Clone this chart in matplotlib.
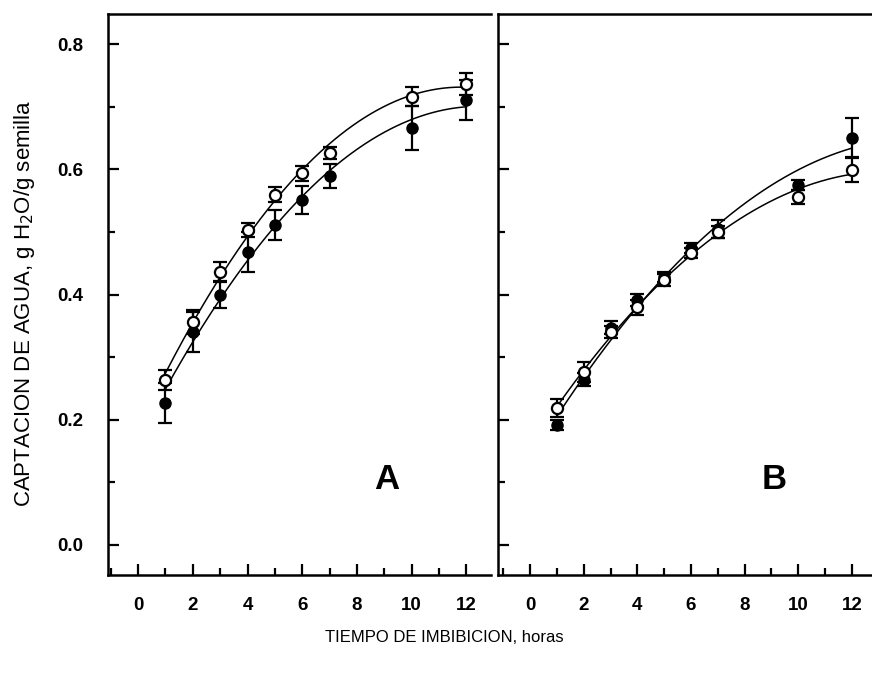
import numpy as np
import matplotlib
matplotlib.use("Agg")
import matplotlib.pyplot as plt
from matplotlib.ticker import MultipleLocator

plt.rcParams['font.family'] = ['Liberation Sans', 'DejaVu Sans']

# time of imbibition, hours
horas = [1, 2, 3, 4, 5, 6, 7, 10, 12]

# panel A
a_abierto = [0.264, 0.356, 0.436, 0.503, 0.559, 0.594, 0.626, 0.716, 0.736]
a_abierto_err = [0.016, 0.019, 0.016, 0.011, 0.012, 0.012, 0.010, 0.015, 0.018]
a_lleno = [0.227, 0.340, 0.400, 0.468, 0.511, 0.551, 0.589, 0.666, 0.711]
a_lleno_err = [0.032, 0.032, 0.022, 0.032, 0.024, 0.022, 0.019, 0.035, 0.032]

# panel B
b_abierto = [0.219, 0.276, 0.340, 0.380, 0.423, 0.466, 0.500, 0.556, 0.599]
b_abierto_err = [0.014, 0.016, 0.010, 0.012, 0.010, 0.008, 0.010, 0.011, 0.020]
b_lleno = [0.192, 0.264, 0.347, 0.391, 0.428, 0.474, 0.505, 0.575, 0.650]
b_lleno_err = [0.008, 0.010, 0.010, 0.010, 0.008, 0.008, 0.014, 0.008, 0.032]


def panel(ax, abierto, abierto_err, lleno, lleno_err, letra):
    x = np.array(horas, dtype=float)
    xs = np.linspace(1, 12, 200)
    for y in (lleno, abierto):
        c = np.polyfit(x, y, 2)
        ax.plot(xs, np.polyval(c, xs), color='black', lw=1.1, zorder=2)
    ax.errorbar(x, lleno, yerr=lleno_err, fmt='o', ms=8, mfc='black', mec='black',
                ecolor='black', elinewidth=1.6, capsize=5, capthick=1.6, zorder=3)
    ax.errorbar(x, abierto, yerr=abierto_err, fmt='o', ms=8, mfc='white', mec='black',
                mew=1.6, ecolor='black', elinewidth=1.6, capsize=5, capthick=1.6, zorder=4)
    ax.text(9.1, 0.105, letra, fontsize=25, fontweight='bold', ha='center', va='center')
    ax.set_ylim(-0.048, 0.848)
    ax.set_xticks(range(0, 13, 2))
    ax.xaxis.set_minor_locator(MultipleLocator(1))
    ax.set_yticks([0.0, 0.2, 0.4, 0.6, 0.8])
    ax.yaxis.set_minor_locator(MultipleLocator(0.1))
    ax.tick_params(which='both', direction='in', width=1.6, labelsize=13.5)
    ax.tick_params(which='major', length=8)
    ax.tick_params(which='minor', length=5)
    ax.tick_params(axis='x', which='major', pad=16)
    ax.tick_params(axis='y', which='major', pad=18)
    for lab in ax.get_xticklabels() + ax.get_yticklabels():
        lab.set_fontweight('bold')
    for s in ax.spines.values():
        s.set_linewidth(1.8)
    ax.spines['right'].set_visible(False)


fig = plt.figure(figsize=(8.72, 6.76), dpi=100)
ax_a = fig.add_axes([108 / 872, 1 - 575 / 676, (491 - 108) / 872, (575 - 14) / 676])
ax_b = fig.add_axes([498 / 872, 1 - 575 / 676, (872 - 498) / 872, (575 - 14) / 676])

panel(ax_a, a_abierto, a_abierto_err, a_lleno, a_lleno_err, 'A')
ax_a.set_xlim(-1.1, 12.9)
panel(ax_b, b_abierto, b_abierto_err, b_lleno, b_lleno_err, 'B')
ax_b.set_xlim(-1.2, 12.75)
ax_b.tick_params(axis='y', labelleft=False)

fig.text(25 / 872, 1 - 303 / 676, r'CAPTACION DE AGUA, g H$_2$O/g semilla', rotation=90,
         ha='center', va='center', fontsize=16)
fig.text(444 / 872, 1 - 637 / 676, 'TIEMPO DE IMBIBICION, horas', ha='center', va='center',
         fontsize=12)

fig.savefig('out.png', dpi=100)
